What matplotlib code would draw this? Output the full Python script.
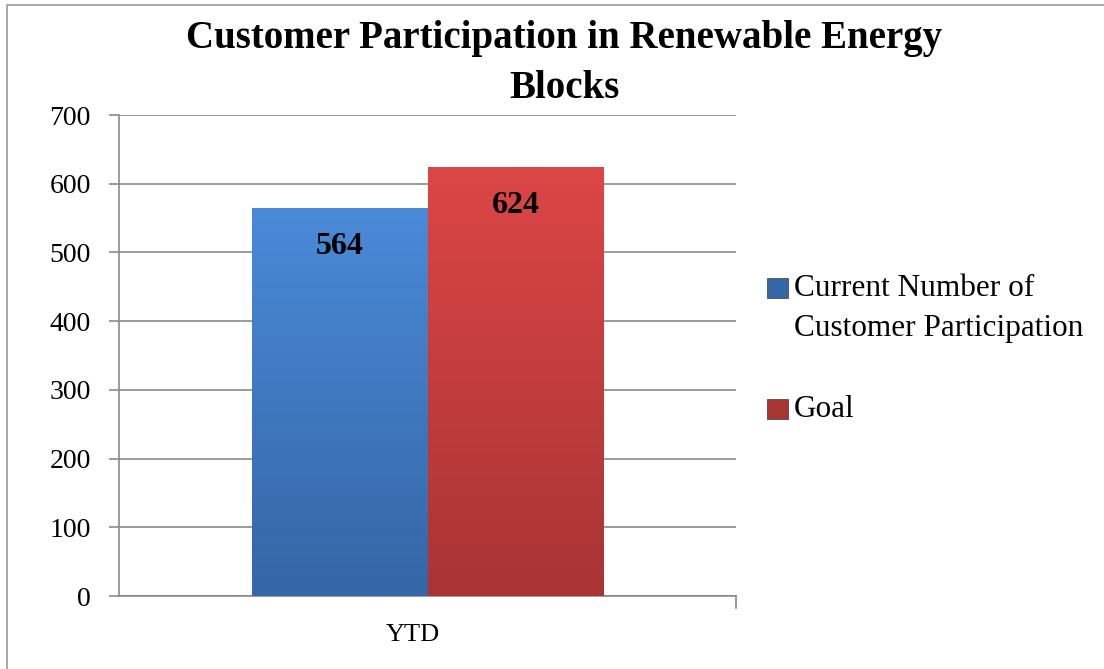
import matplotlib.pyplot as plt
import matplotlib.transforms as mtransforms
import numpy as np
from matplotlib.colors import to_rgb
from matplotlib.patches import Rectangle

# data
categories = ["YTD"]
series_names = ["Current Number of\nCustomer Participation", "Goal"]
series_values = [564, 624]
yticks = [0, 100, 200, 300, 400, 500, 600, 700]

TOP_COLORS = ["#4a8ad8", "#dc4646"]
BOT_COLORS = ["#3566a6", "#a93434"]
SERIF = ["Liberation Serif", "DejaVu Serif"]

fig = plt.figure(figsize=(11.04, 6.69), dpi=100)
ax = fig.add_axes([0.1078, 0.1091, 0.5589, 0.719])

# outer frame
fig.patches.append(Rectangle((0.006, -0.01), 1.2, 1.003, transform=fig.transFigure,
                             fill=False, edgecolor="#9a9a9a", linewidth=1.2))

w = 0.285
offsets = [-w / 2, w / 2]
grad = np.linspace(0, 1, 256).reshape(-1, 1)
for i, (name, v) in enumerate(zip(series_names, series_values)):
    bars = ax.bar(offsets[i], v, width=w, color=BOT_COLORS[i], edgecolor="#3a3a3a",
                  linewidth=0.6, label=name, zorder=3)
    b = bars[0]
    c0 = np.array(to_rgb(TOP_COLORS[i]))
    c1 = np.array(to_rgb(BOT_COLORS[i]))
    img = c0 + (c1 - c0) * grad[:, :, None] * np.ones((1, 1, 3))
    im = ax.imshow(img, extent=[b.get_x(), b.get_x() + b.get_width(), 0, v],
                   aspect="auto", zorder=3.5, origin="upper")
    im.set_clip_path(b)
    ax.text(offsets[i], v - 55, f"{v}", ha="center", va="center", fontsize=23,
            fontweight="bold", family=SERIF, zorder=5)

ax.set_xlim(-0.5, 0.5)
ax.set_ylim(0, 700)
ax.set_yticks(yticks)
ax.set_yticklabels([str(t) for t in yticks], family=SERIF, fontsize=20)
ax.set_xticks([0])
ax.set_xticklabels(categories, family=SERIF, fontsize=19)
ax.tick_params(axis="y", length=7.2, color="#8a8a8a", width=1.2, pad=13, direction="out")
ax.tick_params(axis="x", length=0, pad=20)
# category label sits a bit left of the group centre, as in the original
shift = mtransforms.ScaledTranslation(-0.15, 0, fig.dpi_scale_trans)
for lbl in ax.get_xticklabels():
    lbl.set_transform(lbl.get_transform() + shift)
ax.grid(axis="y", color="#8a8a8a", linewidth=1.2, zorder=0)
ax.set_axisbelow(True)
for s in ["top", "right"]:
    ax.spines[s].set_visible(False)
for s in ["left", "bottom"]:
    ax.spines[s].set_color("#8a8a8a")
    ax.spines[s].set_linewidth(1.2)
ax.plot([1, 1], [0, -0.025], transform=ax.transAxes, color="#8a8a8a",
        linewidth=1.2, clip_on=False)

fig.text(0.511, 0.943, "Customer Participation in Renewable Energy", ha="center",
         va="center", fontsize=28, fontweight="bold", family=SERIF)
fig.text(0.511, 0.868, "Blocks", ha="center", va="center", fontsize=28,
         fontweight="bold", family=SERIF)

# legend, handle aligned with the first text line
leg_x = 0.695
leg_rows = [(0.569, series_names[0]), (0.388, series_names[1])]
for i, (y, name) in enumerate(leg_rows):
    top = name.split("\n")[0]
    sq = Rectangle((leg_x, y - 0.014), 0.019, 0.029, transform=fig.transFigure,
                   facecolor=BOT_COLORS[i], edgecolor="#3a3a3a", linewidth=0.5)
    fig.patches.append(sq)
    fig.text(leg_x + 0.024, y, top, ha="left", va="center", fontsize=22.5,
             family=SERIF)
    if "\n" in name:
        fig.text(leg_x + 0.024, y - 0.06, name.split("\n")[1], ha="left",
                 va="center", fontsize=22.5, family=SERIF)

fig.savefig("out.png", dpi=100)
